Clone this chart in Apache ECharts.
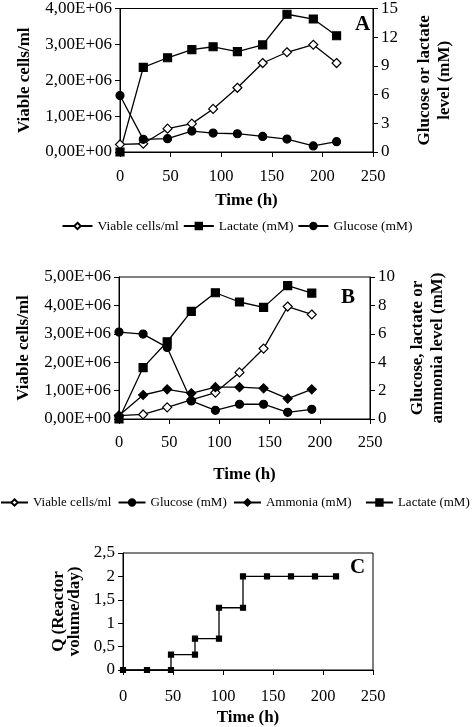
<!DOCTYPE html>
<html><head><meta charset="utf-8">
<script src="https://cdn.jsdelivr.net/npm/echarts@6/dist/echarts.min.js"></script>
<style>html,body{margin:0;padding:0;background:#fff}#c{width:474px;height:727px}</style>
</head><body><div id="c"></div>
<script>
// Panel A
const timeA = [0, 23, 47, 71, 92, 116, 141, 165, 191, 214];
const viableA = [0.21e6, 0.23e6, 0.65e6, 0.79e6, 1.2e6, 1.79e6, 2.48e6, 2.78e6, 2.99e6, 2.48e6];
const lactateA = [0, 8.85, 9.85, 10.7, 11.0, 10.5, 11.2, 14.4, 13.9, 12.15];
const glucoseA = [5.9, 1.32, 1.39, 2.19, 1.98, 1.91, 1.63, 1.35, 0.63, 1.08];
// Panel B
const timeB = [0, 24, 48, 72, 96, 120, 144, 168, 192];
const viableB = [0.12e6, 0.16e6, 0.41e6, 0.67e6, 0.93e6, 1.64e6, 2.48e6, 3.96e6, 3.68e6];
const glucoseB = [6.12, 5.98, 5.04, 1.27, 0.61, 1.04, 1.04, 0.47, 0.68];
const ammoniaB = [0.24, 1.69, 2.09, 1.81, 2.24, 2.24, 2.16, 1.44, 2.09];
const lactateB = [0, 3.62, 5.44, 7.58, 8.89, 8.24, 7.86, 9.39, 8.87];
// Panel C
const timeC = [0, 24, 48, 48, 72, 72, 96, 96, 120, 120, 144, 168, 192, 213];
const flowC = [0, 0, 0, 0.33, 0.33, 0.67, 0.67, 1.33, 1.33, 2, 2, 2, 2, 2];
// tick labels
const cellTicksA = ['0,00E+00', '1,00E+06', '2,00E+06', '3,00E+06', '4,00E+06'];
const cellTicksB = ['0,00E+00', '1,00E+06', '2,00E+06', '3,00E+06', '4,00E+06', '5,00E+06'];
const qTicks = ['0', '0,5', '1', '1,5', '2', '2,5'];

const F = 'Liberation Serif';
const zip = (xs, ys) => xs.map((x, i) => [x, ys[i]]);
const lineStyle = {color: '#000', width: 1.3};
function xAx(gi, margin, gap) {
  return {
    type: 'value', gridIndex: gi, min: 0, max: 250, interval: 50,
    name: 'Time (h)', nameLocation: 'middle', nameGap: gap,
    nameTextStyle: {fontFamily: F, fontSize: 17, fontWeight: 'bold', color: '#000'},
    axisLine: {lineStyle: {color: '#000', width: 1}},
    axisTick: {show: true, length: 5, lineStyle: {color: '#000'}},
    axisLabel: {fontFamily: F, fontSize: 16.5, color: '#000', margin: margin},
    splitLine: {show: false}
  };
}
function yAx(gi, opts) {
  return Object.assign({
    type: 'value', gridIndex: gi,
    nameLocation: 'middle', nameRotate: 90,
    nameTextStyle: {fontFamily: F, fontSize: 17, fontWeight: 'bold', color: '#000', lineHeight: 20},
    axisLine: {show: true, lineStyle: {color: '#000', width: 1}},
    axisTick: {show: true, length: 5, lineStyle: {color: '#000'}},
    axisLabel: {fontFamily: F, fontSize: 17, color: '#000', margin: 8},
    splitLine: {show: false}
  }, opts);
}
function ser(name, xi, yi, data, symbol, size, fill) {
  return {
    name, type: 'line', xAxisIndex: xi, yAxisIndex: yi, data,
    symbol, symbolSize: size, showSymbol: true, animation: false,
    lineStyle, itemStyle: {color: fill || '#000', borderColor: '#000', borderWidth: 1.2}
  };
}
const legB = {top: 496, padding: 0, itemWidth: 27, itemHeight: 8, itemGap: 3,
  textStyle: {fontFamily: F, fontSize: 13, color: '#000'}};
const chart = echarts.init(document.getElementById('c'), null, {renderer: 'canvas'});
chart.setOption({
  backgroundColor: '#fff',
  animation: false,
  grid: [
    {left: 120, right: 101, top: 8, height: 144, show: true, borderColor: '#000', borderWidth: 1},
    {left: 119, right: 104, top: 277, height: 142, show: true, borderColor: '#000', borderWidth: 1},
    {left: 123, right: 101, top: 553, height: 117, show: true, borderColor: '#000', borderWidth: 1}
  ],
  legend: [
    {data: ['Viable cells/ml', 'Lactate (mM)', 'Glucose (mM)'], left: 'center', top: 214,
     itemWidth: 30, itemHeight: 8, itemGap: 4, textStyle: {fontFamily: F, fontSize: 13.5, color: '#000'}},
    Object.assign({data: ['Viable cells/ml ', 'Glucose (mM) ', 'Ammonia (mM)'], left: 0}, legB),
    Object.assign({data: ['Lactate (mM) '], right: 1}, legB)
  ],
  xAxis: [xAx(0, 16, 40), xAx(1, 15, 47), xAx(2, 18, 39)],
  yAxis: [
    yAx(0, {min: 0, max: 4e6, interval: 1e6, name: 'Viable cells/ml', nameGap: 80,
      axisLabel: {fontFamily: F, fontSize: 17, color: '#000', margin: 8, formatter: (v, i) => cellTicksA[i]}}),
    yAx(0, {position: 'right', min: 0, max: 15, interval: 3, name: 'Glucose or lactate\nlevel (mM)', nameGap: 42}),
    yAx(1, {min: 0, max: 5e6, interval: 1e6, name: 'Viable cells/ml', nameGap: 80,
      axisLabel: {fontFamily: F, fontSize: 17, color: '#000', margin: 8, formatter: (v, i) => cellTicksB[i]}}),
    yAx(1, {position: 'right', min: 0, max: 10, interval: 2, name: 'Glucose, lactate or\nammonia level (mM)', nameGap: 38}),
    yAx(2, {min: 0, max: 2.5, interval: 0.5, name: 'Q (Reactor\nvolume/day)', nameGap: 28,
      nameTextStyle: {fontFamily: F, fontSize: 17, fontWeight: 'bold', color: '#000', lineHeight: 16},
      axisLabel: {fontFamily: F, fontSize: 17, color: '#000', margin: 8, formatter: (v, i) => qTicks[i]}})
  ],
  series: [
    ser('Viable cells/ml', 0, 0, zip(timeA, viableA), 'diamond', 9, '#fff'),
    ser('Lactate (mM)', 0, 1, zip(timeA, lactateA), 'rect', 8),
    ser('Glucose (mM)', 0, 1, zip(timeA, glucoseA), 'circle', 8),
    ser('Viable cells/ml ', 1, 2, zip(timeB, viableB), 'diamond', 9, '#fff'),
    ser('Glucose (mM) ', 1, 3, zip(timeB, glucoseB), 'circle', 8),
    ser('Ammonia (mM)', 1, 3, zip(timeB, ammoniaB), 'diamond', 9),
    ser('Lactate (mM) ', 1, 3, zip(timeB, lactateB), 'rect', 8),
    ser('Q', 2, 4, zip(timeC, flowC), 'rect', 5)
  ],
  graphic: [
    {type: 'text', left: 355, top: 14, style: {text: 'A', font: 'bold 21px "Liberation Serif"', fill: '#000'}},
    {type: 'text', left: 341, top: 287, style: {text: 'B', font: 'bold 21px "Liberation Serif"', fill: '#000'}},
    {type: 'text', left: 350, top: 557, style: {text: 'C', font: 'bold 21px "Liberation Serif"', fill: '#000'}}
  ]
});
</script></body></html>
